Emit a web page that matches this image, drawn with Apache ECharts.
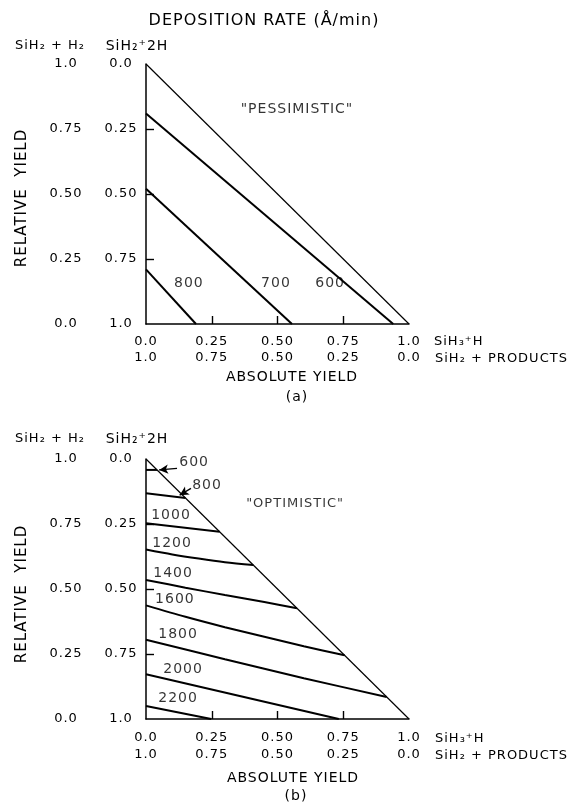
<!DOCTYPE html>
<html><head><meta charset="utf-8">
<script src="https://cdn.jsdelivr.net/npm/echarts@6/dist/echarts.min.js"></script>
<style>
html,body{margin:0;padding:0;background:#fff;}
#chart{width:569px;height:804px;}
</style></head><body><div id="chart"></div>
<script>
// lettering in the original is widely spaced: add a little tracking to canvas text
(function () {
  const P = CanvasRenderingContext2D.prototype, ft = P.fillText;
  P.fillText = function () { try { this.letterSpacing = '1px'; } catch (e) {} return ft.apply(this, arguments); };
})();

// ---------- tick values and tick labels ----------
const tickValues = [0, 0.25, 0.5, 0.75, 1];
const innerTickValues = [0.25, 0.5, 0.75];
const absSiH3Labels = ['0.0', '0.25', '0.50', '0.75', '1.0'];       // SiH3 + H
const absProductsLabels = ['1.0', '0.75', '0.50', '0.25', '0.0'];   // SiH2 + PRODUCTS
const relH2Labels = ['0.0', '0.25', '0.50', '0.75', '1.0'];         // SiH2 + H2 (bottom -> top)
const rel2HLabels = ['1.0', '0.75', '0.50', '0.25', '0.0'];         // SiH2 + 2H (bottom -> top)

// ---------- boundary (absolute yield + relative yield = 1) ----------
const boundary = [[0, 1], [1, 0]];

// ---------- (a) "PESSIMISTIC" deposition-rate lines (Å/min) ----------
const pessimisticRates = ['600', '700', '800'];
const pessimistic600 = [[0, 0.81], [0.94, 0]];
const pessimistic700 = [[0, 0.52], [0.555, 0]];
const pessimistic800 = [[0, 0.21], [0.19, 0]];
const pessimisticLabelAt = [[0.70, 0.157], [0.494, 0.157], [0.163, 0.157]];

// ---------- (b) "OPTIMISTIC" deposition-rate curves (Å/min) ----------
const optimisticRates = ['600', '800', '1000', '1200', '1400', '1600', '1800', '2000', '2200'];
const optimistic600 = [[0, 0.958], [0.042, 0.958]];
const optimistic800 = [[0, 0.868], [0.15, 0.85]];
const optimistic1000 = [[0, 0.753], [0.28, 0.72]];
const optimistic1200 = [[0, 0.652], [0.1, 0.633], [0.2, 0.617], [0.3, 0.603], [0.408, 0.592]];
const optimistic1400 = [[0, 0.535], [0.15, 0.505], [0.3, 0.477], [0.45, 0.45], [0.574, 0.426]];
const optimistic1600 = [[0, 0.437], [0.15, 0.393], [0.3, 0.353], [0.45, 0.316], [0.6, 0.28], [0.755, 0.245]];
const optimistic1800 = [[0, 0.305], [0.3, 0.23], [0.6, 0.157], [0.915, 0.085]];
const optimistic2000 = [[0, 0.172], [0.733, 0]];
const optimistic2200 = [[0, 0.05], [0.248, 0]];
const optimisticLabelAt = [[0.183, 0.988], [0.232, 0.9], [0.095, 0.785], [0.099, 0.677], [0.103, 0.562],
                           [0.110, 0.462], [0.122, 0.327], [0.141, 0.192], [0.122, 0.081]];
// arrows from the "600" and "800" labels to their curves
const optimisticArrows = [[[0.118, 0.964], [0.05, 0.958]], [[0.171, 0.887], [0.128, 0.861]]];

const panelTitles = ['"PESSIMISTIC"', '"OPTIMISTIC"'];
const panelTitleAt = [[0.574, 0.827], [0.567, 0.83]];

// ---------- build option ----------
const FONT = '"DejaVu Sans", sans-serif';
const INK = '#000';
const idx = v => Math.round(v * 4);

function xAxes(gi, m1, m2) {
  return [
    { type: 'value', gridIndex: gi, min: 0, max: 1, interval: 0.25, position: 'bottom',
      axisLine: { show: true, onZero: false, lineStyle: { color: INK, width: 1.5 } },
      axisTick: { show: true, inside: true, length: 8, customValues: innerTickValues, lineStyle: { color: INK, width: 1.4 } },
      splitLine: { show: false },
      axisLabel: { show: true, margin: m1, customValues: tickValues, formatter: v => absSiH3Labels[idx(v)],
        color: INK, fontSize: 13, fontFamily: FONT } },
    { type: 'value', gridIndex: gi, min: 0, max: 1, interval: 0.25, position: 'bottom',
      axisLine: { show: false, onZero: false }, axisTick: { show: false }, splitLine: { show: false },
      axisLabel: { show: true, margin: m2, formatter: v => absProductsLabels[idx(v)],
        color: INK, fontSize: 13, fontFamily: FONT } }
  ];
}
function yAxes(gi) {
  return [
    { type: 'value', gridIndex: gi, min: 0, max: 1, interval: 0.25, position: 'left',
      axisLine: { show: true, onZero: false, lineStyle: { color: INK, width: 1.5 } },
      axisTick: { show: true, inside: true, length: 8, customValues: innerTickValues, lineStyle: { color: INK, width: 1.4 } },
      splitLine: { show: false },
      axisLabel: { show: true, margin: 25, align: 'center', customValues: tickValues, formatter: v => rel2HLabels[idx(v)],
        color: INK, fontSize: 13, fontFamily: FONT } },
    { type: 'value', gridIndex: gi, min: 0, max: 1, interval: 0.25, position: 'left',
      axisLine: { show: false, onZero: false }, axisTick: { show: false }, splitLine: { show: false },
      axisLabel: { show: true, margin: 80, align: 'center', formatter: v => relH2Labels[idx(v)],
        color: INK, fontSize: 13, fontFamily: FONT } }
  ];
}

function lineSeries(xi, yi, data, width, smooth) {
  return { type: 'line', xAxisIndex: xi, yAxisIndex: yi, data: data, showSymbol: false, symbol: 'none',
    smooth: smooth || false, silent: true, z: 3,
    lineStyle: { color: INK, width: width } };
}
function labelSeries(xi, yi, names, pos, size) {
  return { type: 'scatter', xAxisIndex: xi, yAxisIndex: yi, symbolSize: 0, silent: true,
    data: names.map((n, i) => ({ name: n, value: pos[i] })),
    label: { show: true, position: [0, 0], align: 'center', verticalAlign: 'middle', formatter: p => p.name,
      color: INK, fontSize: size, fontFamily: FONT } };
}

const series = [];
// panel (a): xAxis 0/1, yAxis 0/1
series.push(lineSeries(0, 0, boundary, 1.2));
[pessimistic600, pessimistic700, pessimistic800].forEach(d => series.push(lineSeries(0, 0, d, 2)));
series.push(labelSeries(0, 0, pessimisticRates, pessimisticLabelAt, 14));
series.push(labelSeries(0, 0, [panelTitles[0]], [panelTitleAt[0]], 14));
// panel (b): xAxis 2/3, yAxis 2/3
const bBoundary = lineSeries(2, 2, boundary, 1.2);
bBoundary.markLine = { silent: true, symbol: ['none', 'arrow'], symbolSize: [7, 9], animation: false,
  label: { show: false }, lineStyle: { color: INK, width: 1.3, type: 'solid' },
  data: optimisticArrows.map(a => [{ coord: a[0] }, { coord: a[1] }]) };
series.push(bBoundary);
[optimistic600, optimistic800, optimistic1000, optimistic1200, optimistic1400, optimistic1600,
 optimistic1800, optimistic2000, optimistic2200].forEach(d => series.push(lineSeries(2, 2, d, 2, 0.3)));
series.push(labelSeries(2, 2, optimisticRates, optimisticLabelAt, 14));
series.push(labelSeries(2, 2, [panelTitles[1]], [panelTitleAt[1]], 13));

function txt(text, x, y, size, extra) {
  return Object.assign({ type: 'text', x: x, y: y, silent: true,
    style: { text: text, fill: INK, fontSize: size, fontFamily: FONT, align: 'center', verticalAlign: 'middle' } }, extra || {});
}
function txtL(text, x, y, size) {
  return { type: 'text', x: x, y: y, silent: true,
    style: { text: text, fill: INK, fontSize: size, fontFamily: FONT, align: 'left', verticalAlign: 'middle' } };
}

const graphic = [
  txt('DEPOSITION RATE (Å/min)', 264, 21, 16),
  // panel (a)
  txt('SiH₂ + H₂', 50, 46, 13), txt('SiH₂⁺2H', 137, 46, 14),
  txt('RELATIVE  YIELD', 22, 198, 15, { rotation: Math.PI / 2 }),
  txtL('SiH₃⁺H', 434, 342, 13), txtL('SiH₂ + PRODUCTS', 435, 358.5, 13),
  txt('ABSOLUTE YIELD', 292, 377, 14), txt('(a)', 297, 397, 14),
  // panel (b)
  txt('SiH₂ + H₂', 50, 439, 13), txt('SiH₂⁺2H', 137, 439, 14),
  txt('RELATIVE  YIELD', 22, 594, 15, { rotation: Math.PI / 2 }),
  txtL('SiH₃⁺H', 435, 738.5, 13), txtL('SiH₂ + PRODUCTS', 435, 756, 13),
  txt('ABSOLUTE YIELD', 293, 778.5, 14), txt('(b)', 296, 796.5, 14)
];

const option = {
  animation: false,
  backgroundColor: '#fff',
  textStyle: { fontFamily: FONT },
  grid: [
    { left: 146, top: 64, width: 263, height: 260, containLabel: false, outerBoundsMode: 'none' },
    { left: 146, top: 459, width: 263, height: 260, containLabel: false, outerBoundsMode: 'none' }
  ],
  xAxis: [].concat(xAxes(0, 11, 27), xAxes(1, 12, 29)),
  yAxis: [].concat(yAxes(0), yAxes(1)),
  series: series,
  graphic: graphic
};

const chart = echarts.init(document.getElementById('chart'), null, { renderer: 'canvas' });
chart.setOption(option);
</script>
</body></html>
